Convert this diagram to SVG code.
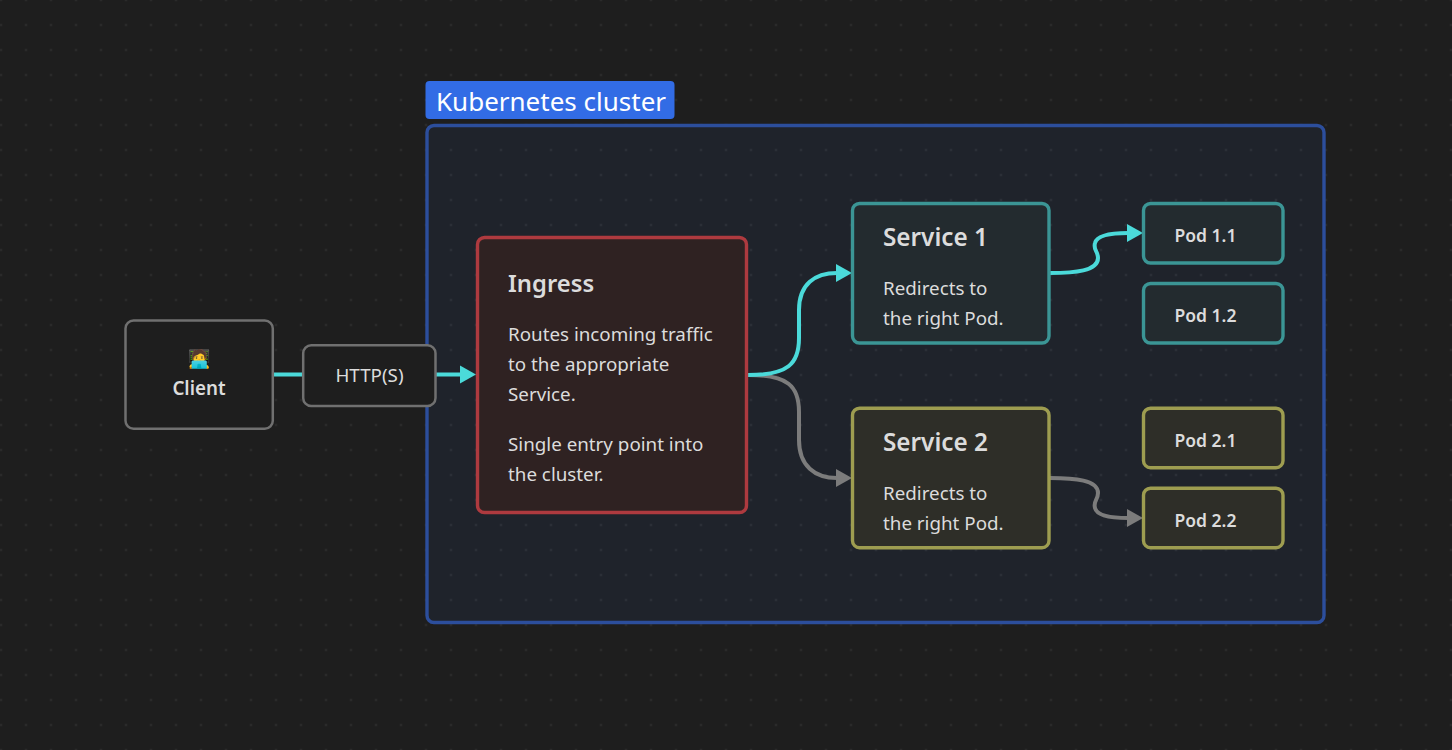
<svg xmlns="http://www.w3.org/2000/svg" width="1452" height="750" viewBox="0 0 1452 750">
<style>
text{font-family:"Noto Sans","Open Sans",sans-serif;fill:#dcdcdc}
.n{stroke-width:3.400}
.plain{fill:#1e1e1e;stroke:#707070;stroke-width:2.500}
.teal{fill:#232b2f;stroke:#3b9595}
.yellow{fill:#2e2e28;stroke:#9e9d50}
.red{fill:#2f2222;stroke:#ae3a3f}
.title{font-size:24.300px;font-weight:600}
.body{font-size:18.800px}
.pod{font-size:17.500px;font-weight:600}
.c{fill:none;stroke-width:4}
.cy{stroke:#4bdada}
.gr{stroke:#7c7c7c}
</style>
<defs>
<pattern id="dots" patternUnits="userSpaceOnUse" x="-11.500" y="12.500" width="25" height="25"><circle cx="12.500" cy="12.500" r="0.900" fill="#383838"/></pattern>
<marker id="ac" markerUnits="userSpaceOnUse" markerWidth="17" markerHeight="20" refX="1" refY="10" orient="auto"><path d="M0 1L16 10L0 19Z" fill="#4bdada"/></marker>
<marker id="ag" markerUnits="userSpaceOnUse" markerWidth="17" markerHeight="20" refX="1" refY="10" orient="auto"><path d="M0 1L16 10L0 19Z" fill="#7c7c7c"/></marker>
</defs>
<rect width="1452" height="750" fill="#1e1e1e"/>
<rect width="1452" height="750" fill="url(#dots)"/>
<g id="cluster">
<rect x="427" y="125.500" width="897" height="497" rx="7" fill="#326ce5" fill-opacity="0.07" stroke="#2c4e9c" stroke-width="3.400"/>
<rect x="425.500" y="81" width="249" height="38" rx="4" fill="#326ce5"/>
<text x="436" y="111" font-size="26" style="fill:#fff">Kubernetes cluster</text>
</g>
<g id="connectors">
<path class="c cy" d="M273 374.500H303"/>
<path class="c cy" d="M436 374.500H461" marker-end="url(#ac)"/>
<path class="c gr" d="M748 375C788 375 799 386 799 412V440C799 466 815 478 837 478" marker-end="url(#ag)"/>
<path class="c cy" d="M748 375C788 375 799 364 799 338V310C799 284 815 273 837 273" marker-end="url(#ac)"/>
<path class="c cy" d="M1050 273C1075 273 1098 271 1098 258C1098 251 1093 250 1095 243C1097 235 1113 233 1128 233" marker-end="url(#ac)"/>
<path class="c gr" d="M1050 478C1075 478 1098 480 1098 493C1098 500 1093 501 1095 508C1097 516 1113 518 1128 518" marker-end="url(#ag)"/>
</g>
<g id="client">
<rect class="plain" x="125.500" y="320.500" width="147.300" height="108.300" rx="8"/>
<text x="199" y="365" font-size="18" text-anchor="middle">🧑‍💻</text>
<text x="199" y="395" font-size="18.800" font-weight="600" text-anchor="middle">Client</text>
</g>
<g id="http">
<rect class="plain" x="303.200" y="345.200" width="132.300" height="60.800" rx="8"/>
<text x="369.500" y="382" class="body" text-anchor="middle">HTTP(S)</text>
</g>
<g id="ingress">
<rect class="n red" x="477.500" y="237.500" width="269" height="275" rx="7"/>
<text x="508" y="292" font-size="23.800" font-weight="600">Ingress</text>
<text x="508" y="341" class="body">Routes incoming traffic</text>
<text x="508" y="371" class="body">to the appropriate</text>
<text x="508" y="401" class="body">Service.</text>
<text x="508" y="451" class="body">Single entry point into</text>
<text x="508" y="481" class="body">the cluster.</text>
</g>
<g id="service1">
<rect class="n teal" x="852.500" y="203.500" width="196.500" height="139.500" rx="7"/>
<text x="883" y="246" class="title">Service 1</text>
<text x="883" y="295" class="body">Redirects to</text>
<text x="883" y="325" class="body">the right Pod.</text>
</g>
<g id="service2">
<rect class="n yellow" x="852.500" y="408.200" width="196.500" height="139.500" rx="7"/>
<text x="883" y="451" class="title">Service 2</text>
<text x="883" y="500" class="body">Redirects to</text>
<text x="883" y="530" class="body">the right Pod.</text>
</g>
<g id="pod11"><rect class="n teal" x="1143.500" y="203.500" width="139.500" height="59.500" rx="7"/><text x="1174.500" y="242" class="pod">Pod 1.1</text></g>
<g id="pod12"><rect class="n teal" x="1143.500" y="283.500" width="139.500" height="59.500" rx="7"/><text x="1174.500" y="322" class="pod">Pod 1.2</text></g>
<g id="pod21"><rect class="n yellow" x="1143.500" y="408.200" width="139.500" height="59.500" rx="7"/><text x="1174.500" y="447" class="pod">Pod 2.1</text></g>
<g id="pod22"><rect class="n yellow" x="1143.500" y="488.200" width="139.500" height="59.500" rx="7"/><text x="1174.500" y="527" class="pod">Pod 2.2</text></g>
</svg>
